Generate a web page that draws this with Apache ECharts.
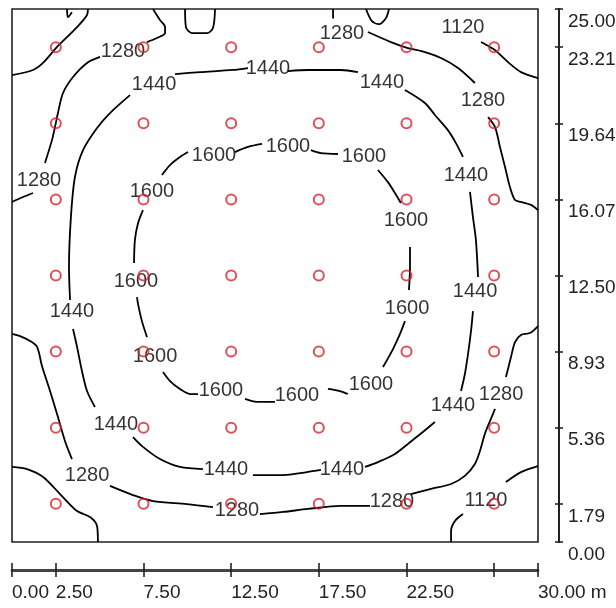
<!DOCTYPE html>
<html>
<head>
<meta charset="utf-8">
<script src="https://cdn.jsdelivr.net/npm/echarts@6/dist/echarts.min.js"></script>
<style>
html,body{margin:0;padding:0;background:#fff;}
#chart{width:616px;height:608px;}
</style>
</head>
<body>
<div id="chart"></div>
<script>
// ---- axis ticks / labels (metres) ----
const xTicks = [0, 2.5, 7.5, 12.5, 17.5, 22.5, 27.5, 30];
const xLabelValues = [0, 2.5, 7.5, 12.5, 17.5, 22.5, 30];
const yTicks = [0, 1.79, 5.36, 8.93, 12.50, 16.07, 19.64, 23.21, 25];

// ---- calculation points (red circles) ----
const pointsX = [2.5, 7.5, 12.5, 17.5, 22.5, 27.5];
const pointsY = [1.79, 5.36, 8.93, 12.50, 16.07, 19.64, 23.21];

// ---- isolines, 1120 lx ----
const iso1120_topLeft = [[0,21.90],[1.20,22.14],[1.77,22.47],[2.57,23.22],[3.71,24.15],[4.28,24.72],[4.33,25]];
const iso1120_topRight = [[26.75,23.45],[27.26,23.22],[27.55,23.07],[28.29,22.51],[29.03,22.04],[30,21.76]];
const iso1120_botLeft = [[0,3.52],[0.86,3.42],[1.77,3.05],[2.74,2.25],[3.71,1.45],[4.45,1.17],[4.85,0.75],[4.90,0]];
const iso1120_botRightA = [[25.04,0],[25.04,0.52],[25.26,0.98],[25.72,1.31]];
const iso1120_botRightB = [[28.17,2.81],[29.03,3.28],[30,3.56]];
const iso1120_nick = [[3.14,25],[3.19,24.62],[3.42,24.85]];

// ---- isolines, 1280 lx ----
const iso1280_loopL = [[9.87,25],[9.92,24.15],[10.27,23.87],[11.12,23.87],[11.46,24.11],[11.58,25]];
const iso1280_loopR = [[20.19,25],[20.53,24.43],[20.93,24.29],[21.33,24.58],[21.50,25]];
const iso1280_topA = [[18.31,25],[18.31,24.55]];
const iso1280_topB = [[20.30,23.92],[21.61,23.45],[22.58,23.17],[23.55,22.98],[24.47,22.70],[25.44,22.23],[26.40,21.53]];
const iso1280_right = [[27.15,19.93],[27.55,19.46],[27.83,18.53],[28.12,17.59],[28.40,16.65],[28.69,16.04],[29.03,15.95],[29.60,15.81],[30,15.57]];
const iso1280_leftA = [[8.04,25],[8.44,24.48],[8.73,24.15],[8.73,23.87],[8.27,23.64],[7.70,23.45]];
const iso1280_leftB = [[5.02,22.75],[4.28,22.47],[3.48,21.81],[2.91,21.06],[2.62,20.12],[2.45,19.46],[2.28,18.85],[1.88,17.78]];
const iso1280_leftC = [[1.20,16.37],[0.63,16.18],[0,15.95]];
const iso1280_botA = [[30,10.13],[29.54,9.80],[29.03,9.71],[28.69,9.38],[28.46,8.68],[28.29,8.11],[28.17,7.74]];
const iso1280_botB = [[27.55,6.24],[27.26,5.67],[26.97,5.07],[26.69,4.27],[26.40,3.66],[25.83,3.10],[25.04,2.72],[23.90,2.49],[22.75,2.25]];
const iso1280_botC = [[20.42,1.69],[18.76,1.69],[16.88,1.55],[15.46,1.41],[14.14,1.31]];
const iso1280_botD = [[11.46,1.64],[9.98,1.78],[8.04,1.92],[6.90,2.20],[5.59,2.63]];
const iso1280_botE = [[3.42,3.89],[3.02,4.74],[2.62,5.86],[2.17,7.08],[1.71,8.25],[1.43,9.15],[1.03,9.43],[0.46,9.66],[0,9.76]];

// ---- isolines, 1440 lx ----
const iso1440_a = [[9.30,21.95],[10.72,22.04],[12.60,22.14],[13.46,22.23]];
const iso1440_b = [[15.74,22.09],[16.88,22.14],[18.76,22.14],[19.73,22.04]];
const iso1440_c = [[22.41,21.20],[23.55,20.59],[24.12,20.03],[24.86,19.32],[25.32,18.71],[25.72,18.06]];
const iso1440_d = [[26.12,16.42],[26.29,15.24],[26.46,14.16],[26.58,12.43]];
const iso1440_e = [[26.29,10.83],[26.18,9.90],[26.01,8.82],[25.83,7.88],[25.61,7.08]];
const iso1440_f = [[24.12,5.63],[23.15,4.97],[22.58,4.60],[21.84,4.13],[20.87,3.75],[20.13,3.52]];
const iso1440_g = [[17.62,3.38],[16.82,3.28],[15.46,3.14],[13.74,3.14]];
const iso1440_h = [[10.89,3.42],[9.58,3.52],[8.44,3.89],[7.47,4.46],[6.90,4.92]];
const iso1440_i = [[4.73,6.33],[4.28,7.08],[3.99,8.02],[3.71,9.15],[3.48,9.99]];
const iso1440_j = [[3.31,11.35],[3.25,12.90],[3.36,15.24],[3.59,17.12],[4.05,18.38],[4.85,19.42],[5.59,20.12],[6.73,20.96]];

// ---- isolines, 1600 lx ----
const iso1600_a = [[12.72,18.29],[13.46,18.53],[14.26,18.67]];
const iso1600_b = [[17.05,18.38],[17.62,18.24],[18.59,18.20]];
const iso1600_c = [[20.87,17.45],[21.44,16.88],[21.84,16.37],[22.18,15.90]];
const iso1600_d = [[22.70,13.84],[22.70,12.90],[22.64,11.82]];
const iso1600_e = [[22.41,10.36],[22.13,9.76],[21.73,9.05],[21.16,8.21]];
const iso1600_f = [[19.16,6.94],[18.71,7.08],[18.02,7.18]];
const iso1600_g = [[15.00,6.57],[13.97,6.57],[13.29,6.71]];
const iso1600_h = [[10.61,6.94],[10.15,6.94],[9.58,7.18],[9.01,7.55],[8.61,7.97]];
const iso1600_i = [[7.70,9.61],[7.41,10.36],[7.19,11.16],[7.13,11.49]];
const iso1600_j = [[6.96,13.09],[7.01,14.16],[7.19,14.96],[7.47,15.57]];
const iso1600_k = [[8.55,17.21],[9.01,17.68],[9.58,18.06],[10.04,18.29]];

// ---- isoline label positions ----
const lab1120 = [[25.72,24.15],[27.03,1.97]];
const lab1280 = [[18.82,23.83],[26.86,20.73],[6.33,23.03],[1.54,16.98],[27.89,6.94],[21.67,1.92],[12.83,1.50],[4.28,3.10]];
const lab1440 = [[8.10,21.48],[14.60,22.23],[21.10,21.57],[25.89,17.21],[26.41,11.73],[25.15,6.38],[18.82,3.42],[12.20,3.38],[5.93,5.53],[3.42,10.79]];
const lab1600 = [[11.52,18.15],[15.74,18.53],[20.07,18.06],[22.47,15.10],[22.53,10.97],[20.47,7.41],[16.25,6.85],[11.92,7.13],[8.16,8.68],[7.07,12.24],[7.98,16.46]];

const segments = [
  iso1120_topLeft, iso1120_topRight, iso1120_botLeft, iso1120_botRightA, iso1120_botRightB, iso1120_nick,
  iso1280_loopL, iso1280_loopR, iso1280_topA, iso1280_topB, iso1280_right, iso1280_leftA, iso1280_leftB, iso1280_leftC,
  iso1280_botA, iso1280_botB, iso1280_botC, iso1280_botD, iso1280_botE,
  iso1440_a, iso1440_b, iso1440_c, iso1440_d, iso1440_e, iso1440_f, iso1440_g, iso1440_h, iso1440_i, iso1440_j,
  iso1600_a, iso1600_b, iso1600_c, iso1600_d, iso1600_e, iso1600_f, iso1600_g, iso1600_h, iso1600_i, iso1600_j, iso1600_k
];

const FONT = '"Liberation Sans Narrow", "Arial Narrow", sans-serif';
const chart = echarts.init(document.getElementById('chart'), null, {renderer: 'canvas'});

const series = [];
segments.forEach(seg => {
  series.push({
    type: 'line', data: seg, smooth: 0.3, showSymbol: false, symbol: 'none',
    lineStyle: {color: '#000', width: 1.8}, z: 2, silent: true, clip: true
  });
});

function labelSeries(pos, text) {
  return {
    type: 'scatter', data: pos.map(p => [p[0], p[1], text]), symbolSize: 1,
    itemStyle: {color: 'rgba(255,255,255,0)'}, z: 3, silent: true,
    label: {show: true, position: 'inside', formatter: p => p.value[2],
      color: '#000', fontSize: 20, fontFamily: FONT}
  };
}
series.push(labelSeries(lab1120, '1120'));
series.push(labelSeries(lab1280, '1280'));
series.push(labelSeries(lab1440, '1440'));
series.push(labelSeries(lab1600, '1600'));

const pts = [];
pointsY.forEach(y => pointsX.forEach(x => pts.push([x, y])));
series.push({
  type: 'scatter', data: pts, symbol: 'circle', symbolSize: 10, z: 5, silent: true,
  itemStyle: {color: 'rgba(255,255,255,0)', borderColor: '#d8232d', borderWidth: 2}
});

const fmt = v => Number(v).toFixed(2);
const tickStyle = {color: '#222', width: 1.6};

chart.setOption({
  animation: false,
  backgroundColor: '#fff',
  grid: {left: 12, top: 9, width: 526, height: 533, show: true, outerBoundsMode: 'none',
    containLabel: false, borderColor: '#222', borderWidth: 1.6, backgroundColor: '#fff'},
  xAxis: [
    {type: 'value', min: 0, max: 30, position: 'bottom', offset: 28,
      axisLine: {show: true, onZero: false, lineStyle: {color: '#444', width: 2.8}},
      axisTick: {show: true, customValues: xTicks, length: 7, lineStyle: tickStyle},
      axisLabel: {show: true, customValues: xLabelValues, align: 'left', margin: 13,
        formatter: v => (v === 30 ? fmt(v) + ' m' : fmt(v)),
        color: '#222', fontSize: 19, fontFamily: FONT},
      splitLine: {show: false}},
    {type: 'value', min: 0, max: 30, position: 'bottom', offset: 28,
      axisLine: {show: false, onZero: false},
      axisTick: {show: true, inside: true, customValues: xTicks, length: 7, lineStyle: tickStyle},
      axisLabel: {show: false}, splitLine: {show: false}}
  ],
  yAxis: [
    {type: 'value', min: 0, max: 25, position: 'right', offset: 21,
      axisLine: {show: true, onZero: false, lineStyle: {color: '#222', width: 2}},
      axisTick: {show: true, customValues: yTicks, length: 4, lineStyle: tickStyle},
      axisLabel: {show: true, customValues: yTicks, verticalAlign: 'top', margin: 9,
        padding: [3, 0, 0, 0], formatter: v => fmt(v),
        color: '#222', fontSize: 19, fontFamily: FONT},
      splitLine: {show: false}},
    {type: 'value', min: 0, max: 25, position: 'right', offset: 21,
      axisLine: {show: false, onZero: false},
      axisTick: {show: true, inside: true, customValues: yTicks, length: 4, lineStyle: tickStyle},
      axisLabel: {show: false}, splitLine: {show: false}}
  ],
  series: series
});
</script>
</body>
</html>
